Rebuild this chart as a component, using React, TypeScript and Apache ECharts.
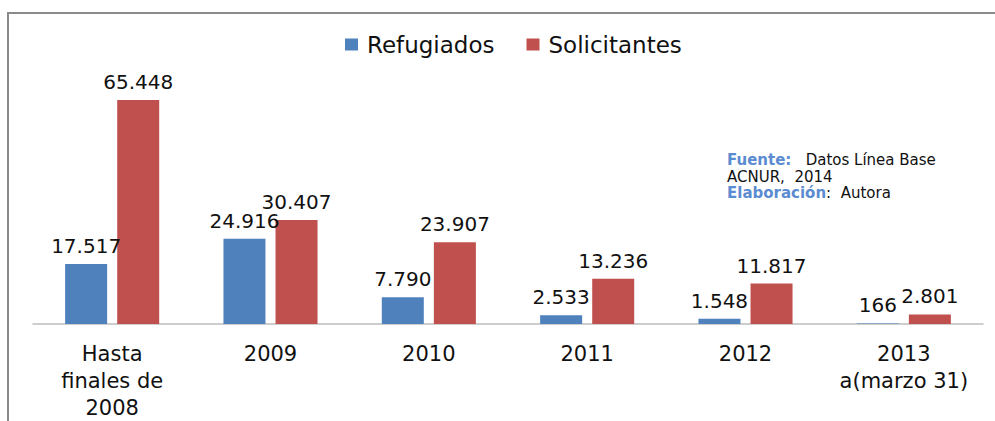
import React, { useEffect, useRef } from "react";
import * as echarts from "echarts";

const categories = ["Hasta\nfinales de\n2008", "2009", "2010", "2011", "2012", "2013\na(marzo 31)"];
const refugiados = [17517, 24916, 7790, 2533, 1548, 166];
const solicitantes = [65448, 30407, 23907, 13236, 11817, 2801];
const seriesNames = ["Refugiados", "Solicitantes"];

const fmt = (v: number) => String(v).replace(/\B(?=(\d{3})+(?!\d))/g, ".");

export default function App() {
  const ref = useRef<HTMLDivElement>(null);
  useEffect(() => {
    const chart = echarts.init(ref.current!, null, { renderer: "svg" });
    const font = "DejaVu Sans";
    const label = {
      show: true,
      position: "top",
      distance: 8,
      fontFamily: font,
      fontSize: 20,
      color: "#111",
      formatter: (p: any) => fmt(p.value),
    };
    chart.setOption({
      animation: false,
      backgroundColor: "#fff",
      textStyle: { fontFamily: font },
      legend: {
        left: 340,
        top: 28,
        itemWidth: 13,
        itemHeight: 12,
        itemGap: 32,
        icon: "rect",
        textStyle: { fontFamily: font, fontSize: 23, color: "#111", padding: [0, 0, 0, 4] },
        data: seriesNames,
      },
      grid: { left: 33, right: 12, top: 84.4, bottom: 97, containLabel: false },
      xAxis: {
        type: "category",
        data: categories,
        axisLine: { lineStyle: { color: "#bdbdbd", width: 1.5 } },
        axisTick: { show: false },
        axisLabel: {
          fontFamily: font,
          fontSize: 21,
          lineHeight: 27,
          color: "#111",
          margin: 16,
          interval: 0,
        },
      },
      yAxis: { type: "value", min: 0, max: 70000, show: false, splitLine: { show: false } },
      series: [
        {
          name: seriesNames[0],
          type: "bar",
          data: refugiados,
          barWidth: 42,
          barGap: "24%",
          itemStyle: { color: "#4F81BD" },
          label,
        },
        {
          name: seriesNames[1],
          type: "bar",
          data: solicitantes,
          barWidth: 42,
          itemStyle: { color: "#C0504D" },
          label,
        },
      ],
      graphic: [
        {
          type: "rect",
          shape: { x: 8, y: 13, width: 1100, height: 600 },
          style: { fill: "none", stroke: "#8a8a8a", lineWidth: 2 },
          silent: true,
        },
        {
          type: "text",
          x: 727,
          y: 152,
          style: {
            text: "{b|Fuente:}   Datos Línea Base\nACNUR,  2014\n{b|Elaboración}:  Autora",
            fontFamily: font,
            fontSize: 15,
            lineHeight: 16.5,
            fill: "#111",
            rich: {
              b: { fontFamily: font, fontSize: 15, fontWeight: "bold", fill: "#5B8BD0", lineHeight: 16.5 },
            },
          },
        },
      ],
    });
    return () => chart.dispose();
  }, []);
  return (
    <div
      ref={ref}
      style={{ position: "fixed", left: 0, top: 0, width: 995, height: 421, background: "#fff" }}
    />
  );
}
